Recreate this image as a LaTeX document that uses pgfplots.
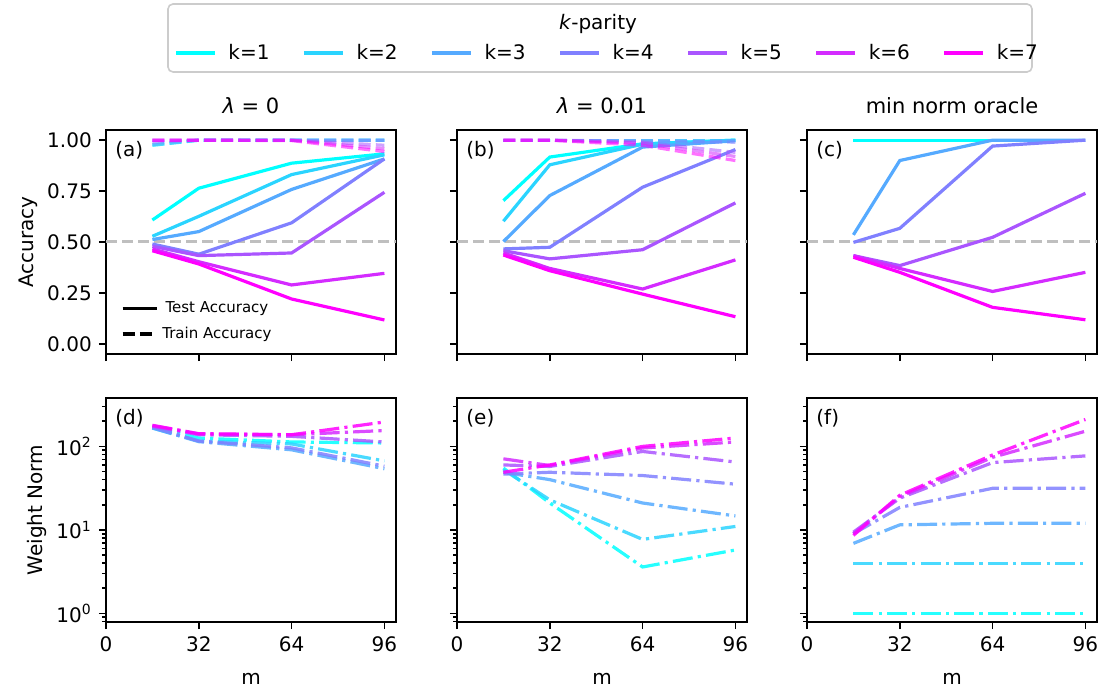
\documentclass[border=0pt]{standalone}
\usepackage{fontspec}
\setmainfont{DejaVu Sans}
\usepackage{pgfplots}
\pgfplotsset{compat=1.18}

\definecolor{kone}{RGB}{0,255,255}
\definecolor{ktwo}{RGB}{42,212,255}
\definecolor{kthree}{RGB}{85,170,255}
\definecolor{kfour}{RGB}{128,128,255}
\definecolor{kfive}{RGB}{170,85,255}
\definecolor{ksix}{RGB}{212,43,255}
\definecolor{kseven}{RGB}{255,0,255}
\definecolor{lightgray204}{RGB}{204,204,204}
\definecolor{halfgray}{RGB}{191,191,191}

\tikzset{
  tag/.style={anchor=north west, inner sep=0pt, xshift=4.5pt, yshift=-5.5pt, font=\fontsize{10}{12}\selectfont},
}
\pgfplotsset{
  panel/.style={
    scale only axis, width=145pt, height=112pt,
    xmin=0, xmax=100, xtick={0,32,64,96},
    tick align=outside, tick pos=left,
    major tick length=3.6pt, minor tick length=2pt,
    tick style={black, line width=0.8pt},
    axis line style={line width=0.8pt},
    tick label style={font=\fontsize{10}{12}\selectfont},
    label style={font=\fontsize{10}{12}\selectfont},
    ylabel style={yshift=-2pt},
    xlabel style={yshift=-4pt},
    title style={font=\fontsize{10.5}{12}\selectfont, yshift=-1.5pt},
    /pgf/number format/assume math mode=true,
  },
  acc/.style={panel, ymin=-0.05, ymax=1.05,
    ytick={0,0.25,0.5,0.75,1}, yticklabels={0.00,0.25,0.50,0.75,1.00},
    xticklabels={}},
  wnorm/.style={panel, ymin=0.79, ymax=380,
    ytick={1,10,100},
    minor ytick={0.8,0.9,2,3,4,5,6,7,8,9,20,30,40,50,60,70,80,90,200,300},
    xticklabels={0,32,64,96}, xlabel={m}},
  te/.style={line width=1.6pt, solid, forget plot},
  tr/.style={line width=1.6pt, dash pattern=on 6pt off 2.6pt, opacity=0.55, forget plot},
  wd/.style={line width=1.6pt, dash pattern=on 10pt off 2.6pt on 1.6pt off 2.6pt, opacity=0.85, forget plot},
  half/.style={halfgray, line width=1.5pt, dash pattern=on 5.5pt off 2.5pt, forget plot},
}

\begin{document}
\begin{tikzpicture}
\useasboundingbox (0,0) rectangle (551pt,344pt);

% (a) lambda = 0, accuracy
\begin{axis}[acc, at={(53pt,167pt)}, anchor=south west,
  title={\textit{λ} = 0}, ylabel={Accuracy},
  legend image code/.code={\draw[#1] (0pt,0pt) -- (17pt,0pt);},
  legend style={at={(0.03,0.02)}, anchor=south west, draw=none, fill=none,
    font=\fontsize{7.5}{9}\selectfont, row sep=1.5pt}]
\addlegendimage{black, line width=1.6pt, solid}
\addlegendentry{Test Accuracy}
\addlegendimage{black, line width=1.6pt, dash pattern=on 6pt off 2.6pt}
\addlegendentry{Train Accuracy}
\addplot[half] coordinates {(0,0.5) (100,0.5)};
\addplot[te, kone] coordinates {(16,0.608) (32,0.764) (64,0.887) (96,0.933)};
\addplot[tr, kone] coordinates {(16,0.975) (32,1.0) (64,1.0) (96,1.0)};
\addplot[te, ktwo] coordinates {(16,0.528) (32,0.626) (64,0.831) (96,0.928)};
\addplot[tr, ktwo] coordinates {(16,0.975) (32,1.0) (64,1.0) (96,1.0)};
\addplot[te, kthree] coordinates {(16,0.512) (32,0.551) (64,0.758) (96,0.908)};
\addplot[tr, kthree] coordinates {(16,0.978) (32,1.0) (64,1.0) (96,1.0)};
\addplot[te, kfour] coordinates {(16,0.490) (32,0.440) (64,0.594) (96,0.908)};
\addplot[tr, kfour] coordinates {(16,0.99) (32,1.0) (64,1.0) (96,1.0)};
\addplot[te, kfive] coordinates {(16,0.479) (32,0.433) (64,0.446) (96,0.744)};
\addplot[tr, kfive] coordinates {(16,1.0) (32,1.0) (64,1.0) (96,0.975)};
\addplot[te, ksix] coordinates {(16,0.466) (32,0.403) (64,0.289) (96,0.346)};
\addplot[tr, ksix] coordinates {(16,1.0) (32,1.0) (64,1.0) (96,0.958)};
\addplot[te, kseven] coordinates {(16,0.457) (32,0.392) (64,0.220) (96,0.117)};
\addplot[tr, kseven] coordinates {(16,1.0) (32,1.0) (64,0.998) (96,0.944)};
\node[tag] at (rel axis cs:0,1) {(a)};
\end{axis}

% (b) lambda = 0.01, accuracy
\begin{axis}[acc, at={(228.5pt,167pt)}, anchor=south west,
  title={\textit{λ} = 0.01}, yticklabels={}]
\addplot[half] coordinates {(0,0.5) (100,0.5)};
\addplot[te, kone] coordinates {(16,0.703) (32,0.917) (64,0.982) (96,1.0)};
\addplot[tr, kone] coordinates {(16,1.0) (32,1.0) (64,1.0) (96,1.0)};
\addplot[te, ktwo] coordinates {(16,0.602) (32,0.879) (64,0.980) (96,1.0)};
\addplot[tr, ktwo] coordinates {(16,1.0) (32,1.0) (64,1.0) (96,1.0)};
\addplot[te, kthree] coordinates {(16,0.502) (32,0.728) (64,0.966) (96,0.997)};
\addplot[tr, kthree] coordinates {(16,1.0) (32,1.0) (64,1.0) (96,1.0)};
\addplot[te, kfour] coordinates {(16,0.466) (32,0.474) (64,0.769) (96,0.954)};
\addplot[tr, kfour] coordinates {(16,1.0) (32,1.0) (64,0.995) (96,0.99)};
\addplot[te, kfive] coordinates {(16,0.457) (32,0.417) (64,0.462) (96,0.692)};
\addplot[tr, kfive] coordinates {(16,1.0) (32,1.0) (64,0.99) (96,0.94)};
\addplot[te, ksix] coordinates {(16,0.446) (32,0.370) (64,0.269) (96,0.412)};
\addplot[tr, ksix] coordinates {(16,1.0) (32,1.0) (64,0.985) (96,0.92)};
\addplot[te, kseven] coordinates {(16,0.436) (32,0.359) (64,0.244) (96,0.133)};
\addplot[tr, kseven] coordinates {(16,1.0) (32,1.0) (64,0.975) (96,0.90)};
\node[tag] at (rel axis cs:0,1) {(b)};
\end{axis}

% (c) min norm oracle, accuracy
\begin{axis}[acc, at={(403.5pt,167pt)}, anchor=south west,
  title={min norm oracle}, yticklabels={}]
\addplot[half] coordinates {(0,0.5) (100,0.5)};
\addplot[te, ktwo] coordinates {(16,1.0) (32,1.0) (64,1.0) (96,1.0)};
\addplot[te, kone] coordinates {(16,1.0) (32,1.0) (64,1.0) (96,1.0)};
\addplot[te, kthree] coordinates {(16,0.535) (32,0.900) (64,1.0) (96,1.0)};
\addplot[te, kfour] coordinates {(16,0.498) (32,0.567) (64,0.971) (96,1.0)};
\addplot[te, kfive] coordinates {(16,0.433) (32,0.384) (64,0.523) (96,0.739)};
\addplot[te, ksix] coordinates {(16,0.433) (32,0.370) (64,0.257) (96,0.351)};
\addplot[te, kseven] coordinates {(16,0.425) (32,0.351) (64,0.179) (96,0.118)};
\node[tag] at (rel axis cs:0,1) {(c)};
\end{axis}

% (d) lambda = 0, weight norm
\begin{axis}[ymode=log, wnorm, at={(53pt,33pt)}, anchor=south west, ylabel={Weight Norm},
  yticklabels={10\textsuperscript{0},10\textsuperscript{1},10\textsuperscript{2}}]
\addplot[wd, kone] coordinates {(16,168) (32,126) (64,113) (96,110)};
\addplot[wd, ktwo] coordinates {(16,166) (32,116) (64,107) (96,67)};
\addplot[wd, kthree] coordinates {(16,166) (32,114) (64,91) (96,54)};
\addplot[wd, kfour] coordinates {(16,170) (32,116) (64,96) (96,58)};
\addplot[wd, kfive] coordinates {(16,174) (32,138) (64,132) (96,113)};
\addplot[wd, ksix] coordinates {(16,177) (32,141) (64,138) (96,155)};
\addplot[wd, kseven] coordinates {(16,179) (32,142) (64,138) (96,196)};
\node[tag] at (rel axis cs:0,1) {(d)};
\end{axis}

% (e) lambda = 0.01, weight norm
\begin{axis}[ymode=log, wnorm, at={(228.5pt,33pt)}, anchor=south west, yticklabels={}]
\addplot[wd, kone] coordinates {(16,55) (32,21) (64,3.6) (96,5.75)};
\addplot[wd, ktwo] coordinates {(16,52.6) (32,22.9) (64,7.7) (96,11)};
\addplot[wd, kthree] coordinates {(16,49) (32,40) (64,21) (96,14.7)};
\addplot[wd, kfour] coordinates {(16,46.6) (32,49) (64,44.8) (96,35.3)};
\addplot[wd, kfive] coordinates {(16,60) (32,57.5) (64,87) (96,65)};
\addplot[wd, ksix] coordinates {(16,71) (32,59) (64,95.7) (96,113)};
\addplot[wd, kseven] coordinates {(16,49) (32,60) (64,100) (96,126)};
\node[tag] at (rel axis cs:0,1) {(e)};
\end{axis}

% (f) min norm oracle, weight norm
\begin{axis}[ymode=log, wnorm, at={(403.5pt,33pt)}, anchor=south west, yticklabels={}]
\addplot[wd, kone] coordinates {(16,1) (32,1) (64,1) (96,1)};
\addplot[wd, ktwo] coordinates {(16,4) (32,4) (64,4) (96,4)};
\addplot[wd, kthree] coordinates {(16,6.9) (32,11.5) (64,12) (96,12)};
\addplot[wd, kfour] coordinates {(16,9.0) (32,18.6) (64,31.5) (96,31.5)};
\addplot[wd, kfive] coordinates {(16,9.4) (32,24) (64,64) (96,77)};
\addplot[wd, ksix] coordinates {(16,9.0) (32,25) (64,74) (96,152)};
\addplot[wd, kseven] coordinates {(16,8.6) (32,26) (64,79) (96,210)};
\node[tag] at (rel axis cs:0,1) {(f)};
\end{axis}

% shared k-parity legend
\draw[lightgray204, line width=0.8pt, fill=white, rounded corners=2.5pt]
  (84pt,308pt) rectangle (516pt,342pt);
\node[font=\fontsize{10}{12}\selectfont] at (299pt,332pt) {\textit{k}-parity};
\begin{axis}[at={(0pt,0pt)}, anchor=south west, scale only axis,
  width=551pt, height=344pt, hide axis, xmin=0, xmax=1, ymin=0, ymax=1,
  legend columns=7,
  legend image code/.code={\draw[#1] (0pt,0pt) -- (19.5pt,0pt);},
  legend style={at={(0.5518,0.923)}, anchor=center, draw=none, fill=none,
    font=\fontsize{10}{12}\selectfont,
    /tikz/every odd column/.append style={column sep=4pt},
    /tikz/every even column/.append style={column sep=14.4pt}}]
\addlegendimage{kone, line width=1.6pt}\addlegendentry{k=1}
\addlegendimage{ktwo, line width=1.6pt}\addlegendentry{k=2}
\addlegendimage{kthree, line width=1.6pt}\addlegendentry{k=3}
\addlegendimage{kfour, line width=1.6pt}\addlegendentry{k=4}
\addlegendimage{kfive, line width=1.6pt}\addlegendentry{k=5}
\addlegendimage{ksix, line width=1.6pt}\addlegendentry{k=6}
\addlegendimage{kseven, line width=1.6pt}\addlegendentry{k=7}
\end{axis}
\end{tikzpicture}
\end{document}
